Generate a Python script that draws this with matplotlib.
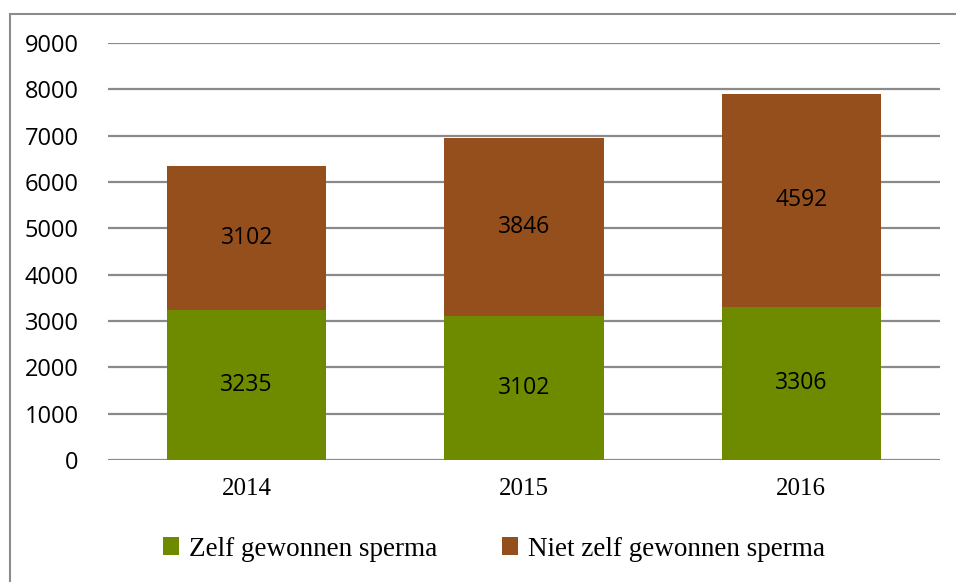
import matplotlib
matplotlib.use("Agg")
import matplotlib.pyplot as plt
from matplotlib.patches import Rectangle, Patch

years = ["2014", "2015", "2016"]
zelf = [3235, 3102, 3306]
niet_zelf = [3102, 3846, 4592]
series_names = ["Zelf gewonnen sperma", "Niet zelf gewonnen sperma"]
yticks = [0, 1000, 2000, 3000, 4000, 5000, 6000, 7000, 8000, 9000]

green = "#6e8b00"
brown = "#944f1c"
grid_c = "#8a8a8a"

fig = plt.figure(figsize=(9.56, 5.82), dpi=100)
fig.patch.set_facecolor("white")
# outer border
fig.add_artist(Rectangle((10/956, -0.05), 1.0, 1 - 14/582 + 0.05, transform=fig.transFigure,
                         fill=False, edgecolor="#8c8c8c", linewidth=1.5))

ax = fig.add_axes([108/956, 1 - 460/582, (940 - 108)/956, (460 - 43)/582])
x = list(range(len(years)))
w = 0.574
ax.bar(x, zelf, width=w, color=green, zorder=3)
ax.bar(x, niet_zelf, width=w, bottom=zelf, color=brown, zorder=3)

ax.set_xlim(-0.5, 2.5)
ax.set_ylim(0, 9000)
ax.set_yticks(yticks)
ax.set_yticklabels([str(v) for v in yticks], family="Open Sans", fontsize=17)
ax.set_xticks(x)
ax.set_xticklabels(years, family="Liberation Serif", fontsize=18)
ax.tick_params(axis="both", length=0)
ax.tick_params(axis="y", pad=21)
ax.tick_params(axis="x", pad=13)
for s in ax.spines.values():
    s.set_visible(False)
ax.yaxis.grid(True, color=grid_c, linewidth=1.6, zorder=0)
ax.set_axisbelow(True)

for i in x:
    ax.text(i, zelf[i] / 2, str(zelf[i]), ha="center", va="center",
            family="Open Sans", fontsize=16.5, color="black", zorder=4)
    ax.text(i, zelf[i] + niet_zelf[i] / 2, str(niet_zelf[i]), ha="center", va="center",
            family="Open Sans", fontsize=16.5, color="black", zorder=4)

handles = [Patch(facecolor=green), Patch(facecolor=brown)]
fig.legend(handles, series_names, loc="center", bbox_to_anchor=(494/956, 1 - 549/582),
           ncol=2, frameon=False, prop={"family": "Liberation Serif", "size": 19.5},
           handlelength=0.6, handleheight=0.6, handletextpad=0.35, columnspacing=2.4)

fig.savefig("out.png", dpi=100)
